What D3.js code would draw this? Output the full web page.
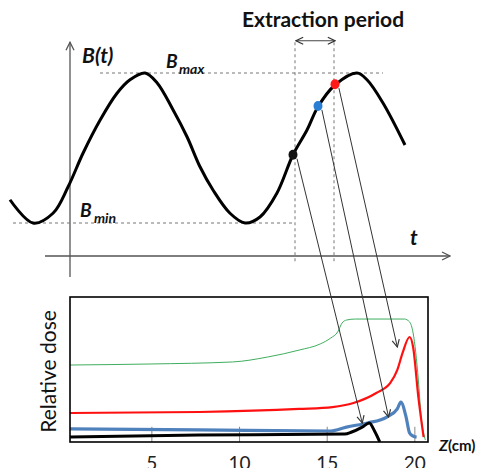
<!DOCTYPE html>
<html>
<head>
<meta charset="utf-8">
<script src="https://cdn.jsdelivr.net/npm/d3@7"></script>
<style>
  body { margin: 0; background: #fff; }
  svg { display: block; font-family: Lato, "Open Sans", sans-serif; }
</style>
</head>
<body>
<script>
// B(t) curve (t in arbitrary units, B normalised so Bmin=-1, Bmax=1)
var curveT = [-6, -3.7, -1.7, -0.2, 1.3, 3.0, 4.7, 6.0, 7.5, 8.7, 10.3, 11.7, 13.0, 14.3, 16.0, 17.5, 19.0, 20.7, 22.3, 23.7, 24.8, 26.5, 28.7, 29.7, 31.3, 33.5];
var curveB = [-0.69, -1, -0.87, -0.52, -0.07, 0.37, 0.73, 0.91, 1.0, 0.87, 0.51, 0.15, -0.25, -0.56, -0.87, -1.0, -0.92, -0.6, -0.09, 0.24, 0.55, 0.84, 1.0, 0.91, 0.6, 0.04];

// extraction samples on the curve
var dotNames = ["black", "blue", "red"];
var dotColors = ["#111111", "#2a7fd4", "#ff1a1a"];
var dotT = [22.3, 24.8, 26.5];
var dotB = [-0.09, 0.56, 0.85];
var extractStart = 22.5, extractEnd = 26.4;

// where each arrow lands in the dose plot
var targetZ = [17.0, 18.5, 19.0];
var targetDose = [13.1, 17.2, 65.5];

// depth-dose curves
var greenZ = [0.33, 4.9, 9.6, 11.6, 13.4, 14.6, 15.2, 15.6, 15.85, 16.1, 16.6, 19.4, 19.7, 19.9, 20.2, 20.35, 20.6];
var greenD = [53.1, 53.8, 55.2, 58.6, 63.4, 67.6, 71.7, 75.9, 82.1, 84.1, 84.8, 84.8, 82.8, 75.2, 42.8, 18.6, 1.4];
var redZ = [0.33, 7.7, 13.4, 15.3, 16.5, 17.8, 18.6, 19.0, 19.3, 19.7, 19.9, 20.2, 20.5];
var redD = [20.0, 20.7, 22.8, 24.1, 26.9, 33.8, 40.7, 49.7, 61.4, 72.4, 65.5, 31.0, 3.4];
var blueZ = [0.33, 7.7, 15.2, 16.1, 17.3, 18.4, 19.0, 19.2, 19.5, 19.7, 19.9, 20.1];
var blueD = [9.0, 8.3, 7.6, 10.3, 13.1, 17.2, 22.8, 27.6, 17.2, 6.2, 4.1, 3.4];
var blackZ = [0.33, 7.7, 16.0, 16.4, 17.0, 17.4, 17.7, 18.0];
var blackD = [3.4, 4.8, 5.5, 6.9, 10.3, 13.1, 7.6, 0];

var zTicks = [5, 10, 15, 20];

var svg = d3.select("body").append("svg")
    .attr("width", 482)
    .attr("height", 468);

var defs = svg.append("defs");
function marker(id, color, size) {
    defs.append("marker")
        .attr("id", id)
        .attr("viewBox", "0 0 10 10")
        .attr("refX", 9).attr("refY", 5)
        .attr("markerWidth", size).attr("markerHeight", size)
        .attr("markerUnits", "userSpaceOnUse")
        .attr("orient", "auto-start-reverse")
        .append("path")
        .attr("d", "M1,1 L9,5 L1,9")
        .attr("fill", "none")
        .attr("stroke", color)
        .attr("stroke-width", 1.3);
}
marker("axArrow", "#555", 10);
marker("smArrow", "#333", 9);

// ---------- top panel ----------
var tx = d3.scaleLinear().domain([-6, 38]).range([10, 450]);
var by = d3.scaleLinear().domain([-1, 1]).range([223, 73]);

var gTop = svg.append("g");

// axes
gTop.append("line")
    .attr("x1", tx(0)).attr("x2", tx(0))
    .attr("y1", by(-1.72)).attr("y2", by(1.41))
    .attr("stroke", "#555").attr("stroke-width", 1.3)
    .attr("marker-end", "url(#axArrow)");
gTop.append("line")
    .attr("x1", tx(-2.5)).attr("x2", tx(38))
    .attr("y1", by(-1.44)).attr("y2", by(-1.44))
    .attr("stroke", "#555").attr("stroke-width", 1.3)
    .attr("marker-end", "url(#axArrow)");

// dashed guides
function dashed(x1, y1, x2, y2) {
    gTop.append("line")
        .attr("x1", x1).attr("y1", y1).attr("x2", x2).attr("y2", y2)
        .attr("stroke", "#777").attr("stroke-width", 1)
        .attr("stroke-dasharray", "3,3");
}
dashed(tx(3.0), by(1), tx(31.3), by(1));
dashed(tx(-5.7), by(-1), tx(extractStart), by(-1));
dashed(tx(extractStart), by(1.41), tx(extractStart), by(-1.52));
dashed(tx(extractEnd), by(1.41), tx(extractEnd), by(-1.52));

// extraction period double arrow
gTop.append("line")
    .attr("x1", tx(extractStart) + 1).attr("x2", tx(extractEnd) + 1)
    .attr("y1", by(1.43)).attr("y2", by(1.43))
    .attr("stroke", "#444").attr("stroke-width", 1.2)
    .attr("marker-start", "url(#smArrow)")
    .attr("marker-end", "url(#smArrow)");

var curvePts = curveT.map((t, i) => [t, curveB[i]]);
gTop.append("path")
    .datum(curvePts)
    .attr("d", d3.line().x(d => tx(d[0])).y(d => by(d[1])).curve(d3.curveCatmullRom))
    .attr("fill", "none")
    .attr("stroke", "#000")
    .attr("stroke-width", 3);

// ---------- bottom panel ----------
var zx = d3.scaleLinear().domain([0.33, 20.75]).range([70, 428]);
var dy = d3.scaleLinear().domain([0, 100]).range([442, 297]);

var gBot = svg.append("g");

gBot.selectAll(".tick")
    .data(zTicks)
    .enter().append("line")
    .attr("x1", d => zx(d)).attr("x2", d => zx(d))
    .attr("y1", dy(0)).attr("y2", dy(10.5))
    .attr("stroke", "#888").attr("stroke-width", 1);

var doseLine = d3.line().x(d => zx(d[0])).y(d => dy(d[1])).curve(d3.curveMonotoneX);
var series = [
    {z: greenZ, d: greenD, color: "#3fae5e", w: 1},
    {z: redZ, d: redD, color: "#ff1010", w: 2.2},
    {z: blueZ, d: blueD, color: "#4f81bd", w: 3.2},
    {z: blackZ, d: blackD, color: "#000", w: 3}
];
gBot.append("clipPath").attr("id", "box")
    .append("rect")
    .attr("x", zx(0.33)).attr("y", dy(100))
    .attr("width", zx(20.75) - zx(0.33)).attr("height", dy(0) - dy(100));
series.forEach(function(s) {
    gBot.append("path")
        .datum(s.z.map((z, i) => [z, s.d[i]]))
        .attr("d", doseLine)
        .attr("clip-path", "url(#box)")
        .attr("fill", "none")
        .attr("stroke", s.color)
        .attr("stroke-width", s.w)
        .attr("stroke-linejoin", "round");
});

gBot.append("rect")
    .attr("x", zx(0.33)).attr("y", dy(100))
    .attr("width", zx(20.75) - zx(0.33)).attr("height", dy(0) - dy(100))
    .attr("fill", "none")
    .attr("stroke", "#000")
    .attr("stroke-width", 1.6);

gBot.selectAll(".tlab")
    .data(zTicks)
    .enter().append("text")
    .attr("x", d => zx(d)).attr("y", 470)
    .attr("text-anchor", "middle")
    .attr("font-size", 19)
    .attr("fill", "#222")
    .text(d => d);

var zl = gBot.append("text")
    .attr("x", 439).attr("y", 451)
    .attr("font-size", 16).attr("font-weight", "bold").attr("fill", "#111");
zl.append("tspan").attr("font-style", "italic").text("Z");
zl.append("tspan").attr("font-size", 15).text("(cm)");

gBot.append("text")
    .attr("transform", "translate(56," + ((dy(0) + dy(100)) / 2 + 2) + ") rotate(-90)")
    .attr("text-anchor", "middle")
    .attr("font-size", 21)
    .attr("fill", "#111")
    .text("Relative dose");

// ---------- connecting arrows ----------
dotT.forEach(function(t, i) {
    var x0 = tx(t), y0 = by(dotB[i]);
    var x1 = zx(targetZ[i]), y1 = dy(targetDose[i]);
    var len = Math.hypot(x1 - x0, y1 - y0);
    var ux = (x1 - x0) / len, uy = (y1 - y0) / len;
    svg.append("line")
        .attr("x1", x0 + ux * 4 + 3).attr("y1", y0 + uy * 4)
        .attr("x2", x1).attr("y2", y1)
        .attr("stroke", "#333").attr("stroke-width", 1)
        .attr("marker-end", "url(#smArrow)");
});

svg.selectAll(".dot")
    .data(dotNames)
    .enter().append("ellipse")
    .attr("cx", (d, i) => tx(dotT[i]))
    .attr("cy", (d, i) => by(dotB[i]))
    .attr("rx", 4.5).attr("ry", 5)
    .attr("fill", (d, i) => dotColors[i]);

// ---------- labels ----------
svg.append("text")
    .attr("x", 323).attr("y", 27)
    .attr("text-anchor", "middle")
    .attr("font-size", 21).attr("font-weight", "bold").attr("fill", "#111")
    .text("Extraction period");

function bold(x, y, size, txt) {
    return svg.append("text")
        .attr("x", x).attr("y", y)
        .attr("font-size", size).attr("font-weight", "bold").attr("font-style", "italic")
        .attr("fill", "#111")
        .text(txt);
}
bold(82, 63, 21, "B(t)");
bold(166, 68, 19, "B");
bold(179, 74, 14, "max");
bold(80, 217, 19, "B");
bold(94, 223, 14, "min");
bold(410, 245, 21, "t");
</script>
</body>
</html>
